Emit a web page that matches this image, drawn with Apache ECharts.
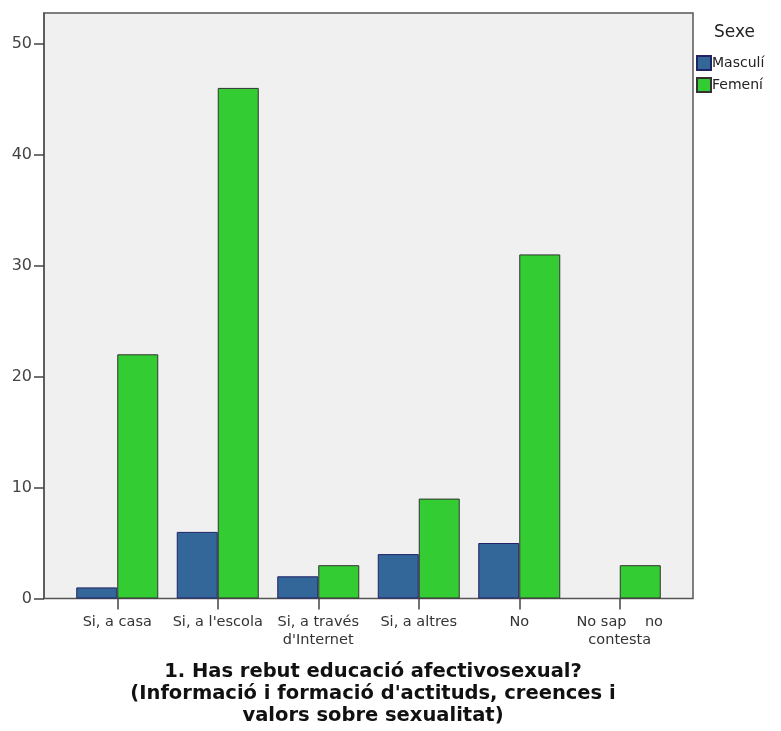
<!DOCTYPE html>
<html>
<head>
<meta charset="utf-8">
<script src="https://cdn.jsdelivr.net/npm/echarts@6/dist/echarts.min.js"></script>
<style>html,body{margin:0;padding:0;background:#fff;}#c{width:781px;height:731px;}</style>
</head>
<body>
<div id="c"></div>
<script>
const categories = ['Si, a casa', "Si, a l'escola", "Si, a través\nd'Internet", 'Si, a altres', 'No', 'No sap    no\ncontesta'];
const masculi = [1, 6, 2, 4, 5, 0];
const femeni = [22, 46, 3, 9, 31, 3];
const yTicks = [0, 10, 20, 30, 40, 50];
const seriesNames = ['Masculí', 'Femení'];
const legendTitle = 'Sexe';
const titleText = "1. Has rebut educació afectivosexual?\n(Informació i formació d'actituds, creences i\nvalors sobre sexualitat)";

const chart = echarts.init(document.getElementById('c'));
const yMax = 52.75;
const font = '"DejaVu Sans", sans-serif';
const hideZero = arr => arr.map(v => (v === 0 ? '-' : v));
chart.setOption({
  backgroundColor: '#ffffff',
  animation: false,
  title: {
    text: titleText,
    left: 368, top: 656, textAlign: 'center',
    textStyle: { fontFamily: font, fontSize: 19.5, fontWeight: 'bold', color: '#111', lineHeight: 22 }
  },
  legend: {
    data: seriesNames,
    orient: 'vertical',
    left: 691, top: 50,
    itemWidth: 14, itemHeight: 14, itemGap: 6,
    textStyle: { fontFamily: font, fontSize: 14, color: '#222', padding: [0,0,0,-4] },
    icon: 'rect'
  },
  graphic: [{
    type: 'text', left: 714, top: 24,
    style: { text: legendTitle, fontFamily: font, fontSize: 17, fill: '#222' }
  }],
  grid: [
    { left: 44, top: 13, width: 649, height: 585.5, show: true, backgroundColor: '#f0f0f0', borderColor: '#555', borderWidth: 1.5 },
    { left: 67, top: 13, width: 603, height: 585.5, show: false }
  ],
  xAxis: [
    { gridIndex: 0, type: 'value', min: 0, max: 1, show: false },
    { gridIndex: 1, type: 'category', data: categories,
      axisLine: { show: false },
      axisTick: { show: true, alignWithLabel: true, length: 11, lineStyle: { color: '#444', width: 1.5 } },
      axisLabel: { fontFamily: font, fontSize: 14.5, color: '#333', margin: 15, lineHeight: 18, interval: 0 } }
  ],
  yAxis: [
    { gridIndex: 0, type: 'value', min: 0, max: yMax,
      axisLine: { show: true, lineStyle: { color: '#555', width: 1.5 } },
      axisTick: { show: true, length: 10, customValues: yTicks, lineStyle: { color: '#444', width: 1.5 } },
      axisLabel: { fontFamily: font, fontSize: 16, color: '#444', margin: 12, customValues: yTicks },
      splitLine: { show: false } },
    { gridIndex: 1, type: 'value', min: 0, max: yMax, show: false, splitLine: { show: false } }
  ],
  series: [
    { name: seriesNames[0], type: 'bar', xAxisIndex: 1, yAxisIndex: 1, data: hideZero(masculi),
      barWidth: 41, barGap: '0%',
      itemStyle: { color: '#336699', borderColor: '#222266', borderWidth: 1 } },
    { name: seriesNames[1], type: 'bar', xAxisIndex: 1, yAxisIndex: 1, data: hideZero(femeni),
      barWidth: 41, barGap: '0%',
      itemStyle: { color: '#33cc33', borderColor: '#333', borderWidth: 1 } }
  ]
});
</script>
</body>
</html>
